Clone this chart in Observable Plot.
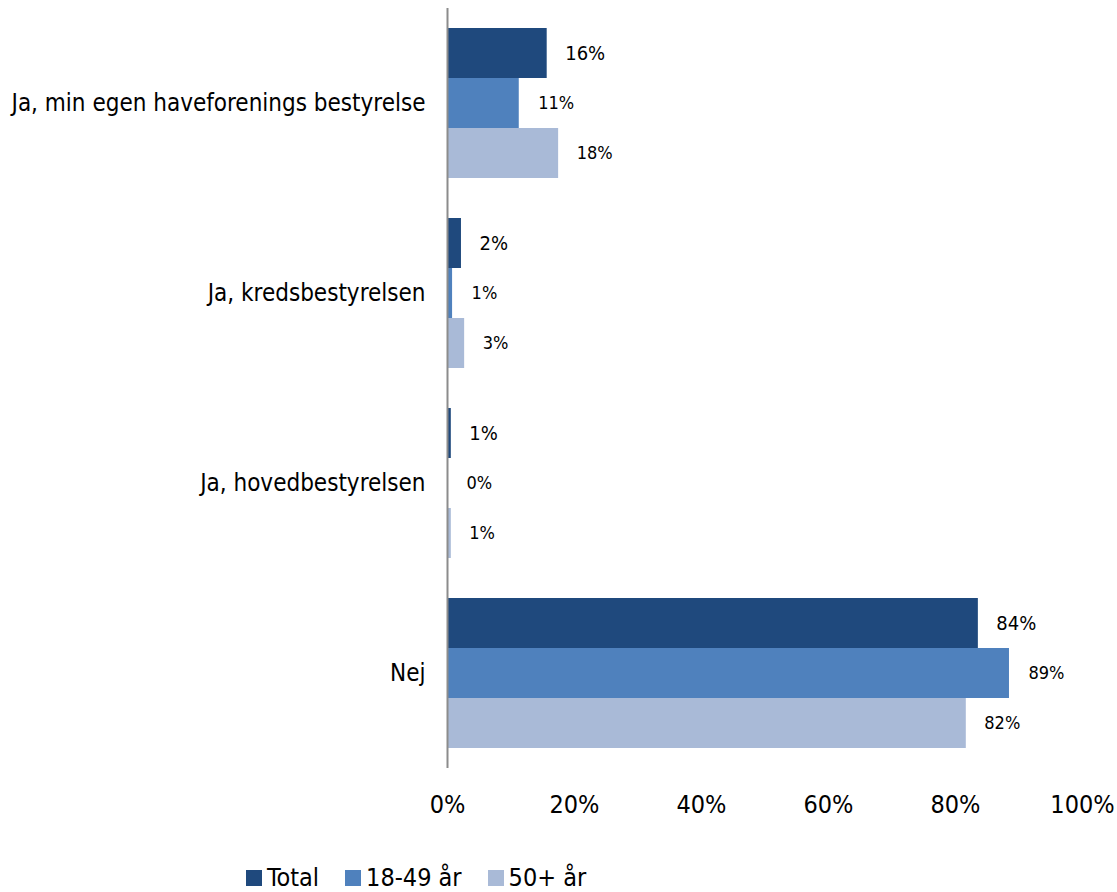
<!DOCTYPE html>
<html>
<head>
<meta charset="utf-8">
<script src="https://cdn.jsdelivr.net/npm/d3@7"></script>
<script src="https://cdn.jsdelivr.net/npm/@observablehq/plot@0.6"></script>
<style>
  html, body { margin: 0; padding: 0; background: #fff; }
  body { width: 1117px; height: 892px; overflow: hidden; font-family: "DejaVu Sans Condensed", "DejaVu Sans", sans-serif; }
  #legend { display: flex; align-items: center; padding-left: 246px; margin-top: 33px; font-size: 25px; color: #000; line-height: 30px; }
  #legend .item { display: flex; align-items: center; margin-right: 26px; }
  #legend .sw { width: 16px; height: 16px; margin-right: 5px; }
</style>
</head>
<body>
<div id="chart"></div>
<div id="legend"></div>
<script>
const categories = ["Ja, min egen haveforenings bestyrelse", "Ja, kredsbestyrelsen", "Ja, hovedbestyrelsen", "Nej"];
const series = ["Total", "18-49 år", "50+ år"];
const colors = ["#1F497D", "#4F81BD", "#A9BAD7"];
const totalValues = [15.7, 2.2, 0.6, 83.6];
const age1849Values = [11.3, 0.8, 0.0, 88.5];
const age50Values = [17.5, 2.7, 0.6, 81.7];
const labelsTotal = ["16%", "2%", "1%", "84%"];
const labels1849 = ["11%", "1%", "0%", "89%"];
const labels50 = ["18%", "3%", "1%", "82%"];
const xTicks = [0, 20, 40, 60, 80, 100];

const seriesValues = [totalValues, age1849Values, age50Values];
const seriesLabels = [labelsTotal, labels1849, labels50];
const data = [];
series.forEach((s, si) => categories.forEach((c, ci) => {
  data.push({category: c, series: s, value: seriesValues[si][ci], label: seriesLabels[si][ci]});
}));

const font = "'DejaVu Sans Condensed', 'DejaVu Sans', sans-serif";
const bandH = 150, third = bandH / 3;
const insets = [[0, 2 * third], [third, third], [2 * third, 0]];
const dys = [-third, 0, third];
const fontSizes = [20, 18, 18];
const dxs = [18, 19, 18];

const marks = [];
series.forEach((s, si) => {
  const d = data.filter(r => r.series === s);
  marks.push(Plot.barX(d, {
    x: "value", y: "category", fill: colors[si],
    insetTop: insets[si][0], insetBottom: insets[si][1]
  }));
  marks.push(Plot.text(d, {
    x: "value", y: "category", text: "label", dy: dys[si], dx: dxs[si],
    textAnchor: "start", fontSize: fontSizes[si], fill: "#000"
  }));
});
marks.push(Plot.ruleX([0], {stroke: "#8c8c8c", strokeWidth: 2}));

const chart = Plot.plot({
  width: 1117,
  height: 830,
  marginLeft: 447,
  marginRight: 35,
  marginTop: 8,
  marginBottom: 62,
  style: {fontFamily: font, color: "#000", background: "#fff"},
  x: {domain: [0, 100], label: null},
  y: {domain: categories, paddingInner: 40 / 190, paddingOuter: 20 / 190, label: null},
  marks: [
    Plot.axisX({ticks: xTicks, tickFormat: d => d + "%", tickSize: 0, tickPadding: 27, fontSize: 25, label: null}),
    Plot.axisY({tickSize: 0, tickPadding: 22, fontSize: 24, label: null}),
    ...marks
  ]
});
document.getElementById("chart").appendChild(chart);

const legend = document.getElementById("legend");
series.forEach((s, i) => {
  const item = document.createElement("div");
  item.className = "item";
  const sw = document.createElement("span");
  sw.className = "sw";
  sw.style.background = colors[i];
  const t = document.createElement("span");
  t.textContent = s;
  item.appendChild(sw);
  item.appendChild(t);
  legend.appendChild(item);
});
</script>
</body>
</html>
